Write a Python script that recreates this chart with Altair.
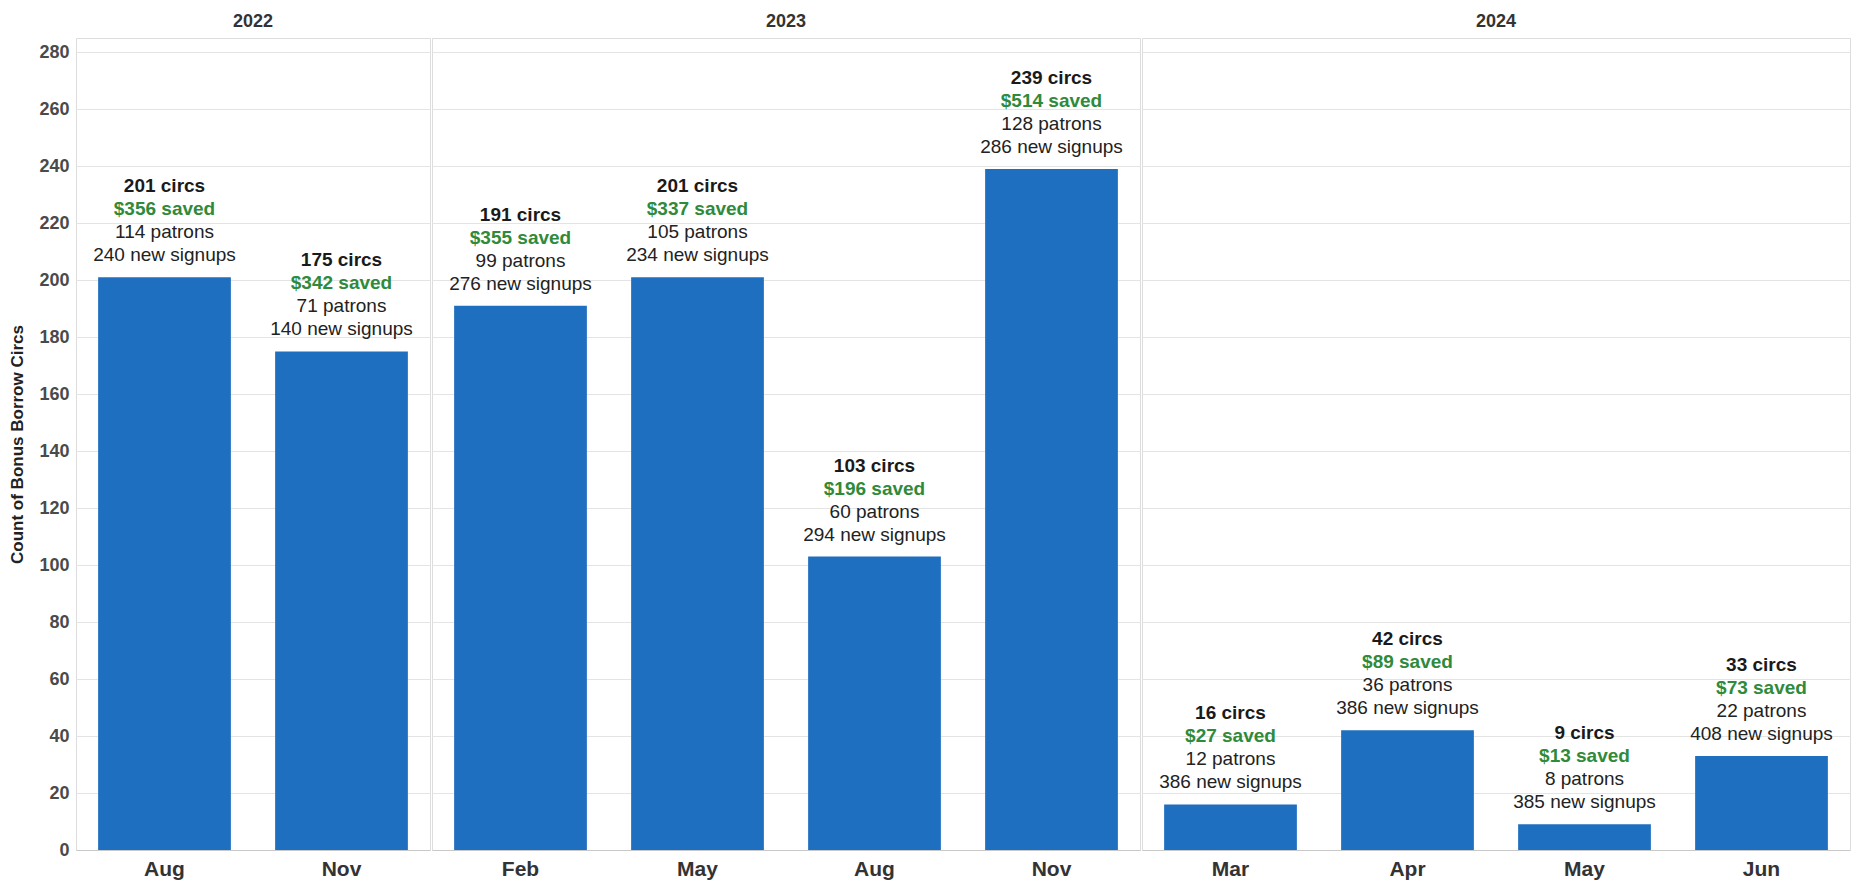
import altair as alt
import pandas as pd

years = ["2022", "2022", "2023", "2023", "2023", "2023", "2024", "2024", "2024", "2024"]
months = ["Aug", "Nov", "Feb", "May", "Aug", "Nov", "Mar", "Apr", "May", "Jun"]
circs = [201, 175, 191, 201, 103, 239, 16, 42, 9, 33]
saved = [356, 342, 355, 337, 196, 514, 27, 89, 13, 73]
patrons = [114, 71, 99, 105, 60, 128, 12, 36, 8, 22]
signups = [240, 140, 276, 234, 294, 286, 386, 386, 385, 408]

df = pd.DataFrame({
    "year": years,
    "month": months,
    "order": list(range(len(months))),
    "circs": circs,
    "l1": [f"{c} circs" for c in circs],
    "l2": [f"${s} saved" for s in saved],
    "l3": [f"{p} patrons" for p in patrons],
    "l4": [f"{n} new signups" for n in signups],
})

FONT = "Liberation Sans"
BLUE = "#1f6fc1"
GREEN = "#2f8a3a"

x = alt.X("month:N", sort=alt.EncodingSortField("order"), title=None,
          scale=alt.Scale(paddingInner=0.25, paddingOuter=0.125),
          axis=alt.Axis(labelAngle=0, labelFontSize=21, labelFontWeight="bold",
                        labelColor="#333333", labelFont=FONT, ticks=False,
                        labelPadding=8, domainColor="#c8c8c8"))
y = alt.Y("circs:Q", title="Count of Bonus Borrow Circs",
          scale=alt.Scale(domain=[0, 285], nice=False),
          axis=alt.Axis(values=list(range(0, 281, 20)), labelFontSize=18,
                        labelFontWeight="bold", labelColor="#4a4a4a", labelFont=FONT,
                        ticks=False, domain=False, labelPadding=6,
                        titleFontSize=17, titleFont=FONT, titleFontWeight="bold",
                        titleColor="#222222", titlePadding=12,
                        gridColor="#e4e4e4"))

base = alt.Chart().encode(x=x, y=y)
bars = base.mark_bar(color=BLUE)

def line(field, dy, color, weight):
    return base.mark_text(baseline="alphabetic", dy=dy, fontSize=19, font=FONT,
                          fontWeight=weight, color=color).encode(text=f"{field}:N")

t4 = line("l4", -16, "#222222", "normal")
t3 = line("l3", -39, "#222222", "normal")
t2 = line("l2", -62, GREEN, "bold")
t1 = line("l1", -85, "#1a1a1a", "bold")

layered = alt.layer(bars, t1, t2, t3, t4, data=df).properties(
    width=alt.Step(177), height=812)

chart = layered.facet(
    column=alt.Column("year:N", title=None,
                      header=alt.Header(labelFontSize=18, labelFont=FONT,
                                        labelFontWeight="bold", labelColor="#333333",
                                        labelPadding=6)),
    spacing=0,
).resolve_scale(x="independent").properties(
    padding={"left": 0, "top": 5, "right": 0, "bottom": 0}
).configure_view(stroke="#cccccc", strokeWidth=1).configure(background="white")

chart.save("out.html", embed_options={"renderer": "svg", "actions": False})
